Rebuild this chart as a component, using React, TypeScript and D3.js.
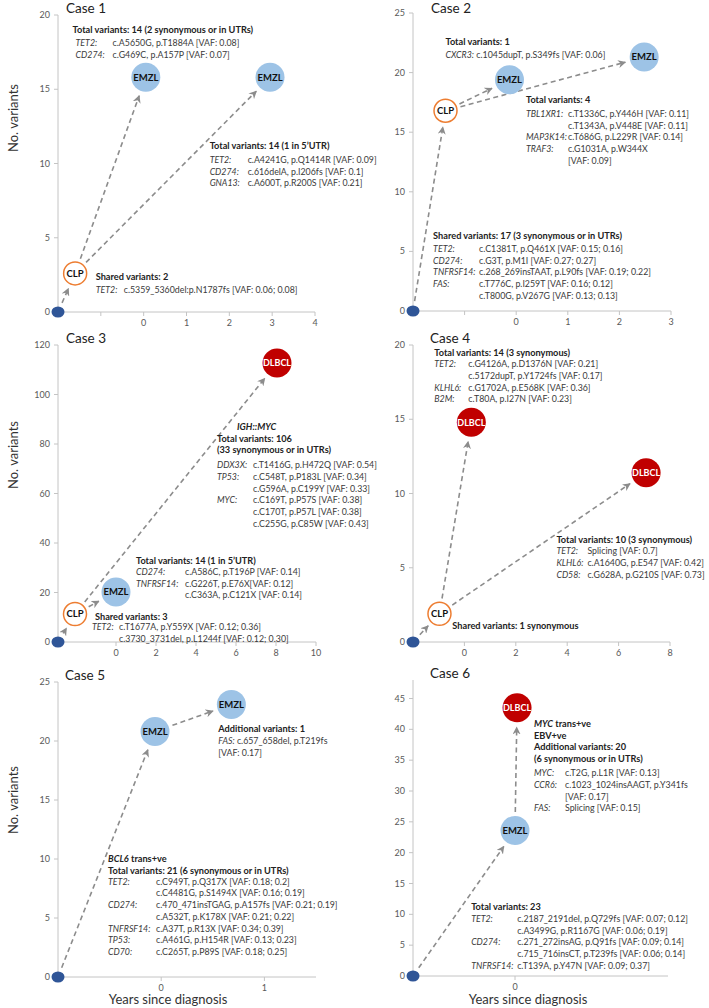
import React from "react";
import * as d3 from "d3";

const W = 709;
const H = 1008;
const FONT = "Lato, 'Open Sans', sans-serif";

const caseNames = ["Case 1", "Case 2", "Case 3", "Case 4", "Case 5", "Case 6"];
const xDomains = [[-2, 4], [-2, 3], [-2.9, 10], [-2, 8], [-1, 1.5], [-1, 1.5]];
const yDomains = [[0, 20], [0, 25], [0, 120], [0, 20], [0, 25], [0, 48]];
const xTickLabels = [[0, 1, 2, 3, 4], [0, 1, 2, 3], [0, 2, 4, 6, 8, 10], [0, 2, 4, 6, 8], [0, 1], [0]];
const xBlankTicks = [[-1], [-1], [], [], [], []];
const yTickValues = [
  [0, 5, 10, 15, 20],
  [0, 5, 10, 15, 20, 25],
  [0, 20, 40, 60, 80, 100, 120],
  [0, 5, 10, 15, 20],
  [0, 5, 10, 15, 20, 25],
  [0, 5, 10, 15, 20, 25, 30, 35, 40, 45],
];

// nodes: years since diagnosis, no. variants
const case1Nodes = [
  { kind: "origin", x: -2, y: 0 },
  { kind: "CLP", x: -1.6, y: 2.6 },
  { kind: "EMZL", x: 0.05, y: 15.8 },
  { kind: "EMZL", x: 2.95, y: 15.8 },
];
const case2Nodes = [
  { kind: "origin", x: -2, y: 0 },
  { kind: "CLP", x: -1.37, y: 16.8 },
  { kind: "EMZL", x: -0.13, y: 19.4 },
  { kind: "EMZL", x: 2.48, y: 21.3 },
];
const case3Nodes = [
  { kind: "origin", x: -2.9, y: 0 },
  { kind: "CLP", x: -2.05, y: 11.3 },
  { kind: "EMZL", x: 0, y: 20.2 },
  { kind: "DLBCL", x: 8.05, y: 112.7 },
];
const case4Nodes = [
  { kind: "origin", x: -2, y: 0 },
  { kind: "CLP", x: -0.97, y: 1.9 },
  { kind: "DLBCL", x: 0.27, y: 14.8 },
  { kind: "DLBCL", x: 7.07, y: 11.4 },
];
const case5Nodes = [
  { kind: "origin", x: -1, y: 0 },
  { kind: "EMZL", x: -0.06, y: 20.8 },
  { kind: "EMZL", x: 0.68, y: 23.1 },
];
const case6Nodes = [
  { kind: "origin", x: -1, y: 0 },
  { kind: "EMZL", x: 0, y: 23.6 },
  { kind: "DLBCL", x: 0.02, y: 43.5 },
];
const caseNodes = [case1Nodes, case2Nodes, case3Nodes, case4Nodes, case5Nodes, case6Nodes];
const caseEdges = [
  [[0, 1], [1, 2], [1, 3]],
  [[0, 1], [1, 2], [1, 3]],
  [[0, 1], [1, 2], [1, 3]],
  [[0, 1], [1, 2], [1, 3]],
  [[0, 1], [1, 2]],
  [[0, 1], [1, 2]],
];

// annotation texts
const c1Total1 = [
  { h: "Total variants: 14 (2 synonymous or in UTRs)" },
  { g: "TET2:", v: "c.A5650G, p.T1884A [VAF: 0.08]" },
  { g: "CD274:", v: "c.G469C, p.A157P [VAF: 0.07]" },
];
const c1Total2 = [
  { h: "Total variants: 14 (1 in 5\u2019UTR)" },
  { g: "TET2:", v: "c.A4241G, p.Q1414R [VAF: 0.09]" },
  { g: "CD274:", v: "c.616delA, p.I206fs [VAF: 0.1]" },
  { g: "GNA13:", v: "c.A600T, p.R200S [VAF: 0.21]" },
];
const c1Shared = [
  { h: "Shared variants: 2" },
  { g: "TET2:", v: "c.5359_5360del:p.N1787fs [VAF: 0.06; 0.08]" },
];
const c2Total1 = [
  { h: "Total variants: 1" },
  { g: "CXCR3:", v: "c.1045dupT, p.S349fs [VAF: 0.06]", inline: true },
];
const c2Total4 = [
  { h: "Total variants: 4" },
  { g: "TBL1XR1:", v: "c.T1336C, p.Y446H [VAF: 0.11]" },
  { v: "c.T1343A, p.V448E [VAF: 0.11]" },
  { g: "MAP3K14:", v: "c.T686G, p.L229R [VAF: 0.14]" },
  { g: "TRAF3:", v: "c.G1031A, p.W344X" },
  { v: "[VAF: 0.09]" },
];
const c2Shared = [
  { h: "Shared variants: 17 (3 synonymous or in UTRs)" },
  { g: "TET2:", v: "c.C1381T, p.Q461X [VAF: 0.15; 0.16]" },
  { g: "CD274:", v: "c.G3T, p.M1I [VAF: 0.27; 0.27]" },
  { g: "TNFRSF14:", v: "c.268_269insTAAT, p.L90fs [VAF: 0.19; 0.22]" },
  { g: "FAS:", v: "c.T776C, p.I259T [VAF: 0.16; 0.12]" },
  { v: "c.T800G, p.V267G [VAF: 0.13; 0.13]" },
];
const c3Dlbcl = [
  { hi: "IGH::MYC", dx: 20 },
  { h: "Total variants: 106" },
  { h: "(33 synonymous or in UTRs)" },
  { g: "DDX3X:", v: "c.T1416G, p.H472Q [VAF: 0.54]" },
  { g: "TP53:", v: "c.C548T, p.P183L [VAF: 0.34]" },
  { v: "c.G596A, p.C199Y [VAF: 0.33]" },
  { g: "MYC:", v: "c.C169T, p.P57S [VAF: 0.38]" },
  { v: "c.C170T, p.P57L [VAF: 0.38]" },
  { v: "c.C255G, p.C85W [VAF: 0.43]" },
];
const c3Emzl = [
  { h: "Total variants: 14 (1 in 5\u2019UTR)" },
  { g: "CD274:", v: "c.A586C, p.T196P [VAF: 0.14]" },
  { g: "TNFRSF14:", v: "c.G226T, p.E76X[VAF: 0.12]" },
  { v: "c.C363A, p.C121X [VAF: 0.14]" },
];
const c3Shared = [
  { h: "Shared variants: 3" },
  { g: "TET2:", v: "c.T1677A, p.Y559X [VAF: 0.12; 0.36]" },
  { v: "c.3730_3731del, p.L1244f [VAF: 0.12; 0.30]" },
];
const c4Total14 = [
  { h: "Total variants: 14 (3 synonymous)" },
  { g: "TET2:", v: "c.G4126A, p.D1376N [VAF: 0.21]" },
  { v: "c.5172dupT, p.Y1724fs [VAF: 0.17]" },
  { g: "KLHL6:", v: "c.G1702A, p.E568K [VAF: 0.36]" },
  { g: "B2M:", v: "c.T80A, p.I27N [VAF: 0.23]" },
];
const c4Total10 = [
  { h: "Total variants: 10 (3 synonymous)" },
  { g: "TET2:", v: "Splicing [VAF: 0.7]" },
  { g: "KLHL6:", v: "c.A1640G, p.E547 [VAF: 0.42]" },
  { g: "CD58:", v: "c.G628A, p.G210S [VAF: 0.73]" },
];
const c4Shared = [{ h: "Shared variants: 1 synonymous" }];
const c5Additional = [
  { h: "Additional variants: 1" },
  { g: "FAS:", v: "c.657_658del, p.T219fs", inline: true },
  { v: "[VAF: 0.17]", dx: 0 },
];
const c5Total = [
  { hi: "BCL6", rest: " trans+ve" },
  { h: "Total variants: 21 (6 synonymous or in UTRs)" },
  { g: "TET2:", v: "c.C949T, p.Q317X [VAF: 0.18; 0.2]" },
  { v: "c.C4481G, p.S1494X [VAF: 0.16; 0.19]" },
  { g: "CD274:", v: "c.470_471insTGAG, p.A157fs [VAF: 0.21; 0.19]" },
  { v: "c.A532T, p.K178X [VAF: 0.21; 0.22]" },
  { g: "TNFRSF14:", v: "c.A37T, p.R13X [VAF: 0.34; 0.39]" },
  { g: "TP53:", v: "c.A461G, p.H154R [VAF: 0.13; 0.23]" },
  { g: "CD70:", v: "c.C265T, p.P89S [VAF: 0.18; 0.25]" },
];
const c6Dlbcl = [
  { hi: "MYC", rest: " trans+ve" },
  { h: "EBV+ve" },
  { h: "Additional variants: 20" },
  { h: "(6 synonymous or in UTRs)" },
  { g: "MYC:", v: "c.T2G, p.L1R [VAF: 0.13]" },
  { g: "CCR6:", v: "c.1023_1024insAAGT, p.Y341fs" },
  { v: "[VAF: 0.17]" },
  { g: "FAS:", v: "Splicing [VAF: 0.15]" },
];
const c6Total = [
  { h: "Total variants: 23" },
  { g: "TET2:", v: "c.2187_2191del, p.Q729fs [VAF: 0.07; 0.12]" },
  { v: "c.A3499G, p.R1167G [VAF: 0.06; 0.19]" },
  { g: "CD274:", v: "c.271_272insAG, p.Q91fs [VAF: 0.09; 0.14]" },
  { v: "c.715_716insCT, p.T239fs [VAF: 0.06; 0.14]" },
  { g: "TNFRSF14:", v: "c.T139A, p.Y47N [VAF: 0.09; 0.37]" },
];

// layout
const panels = [
  { left: 58, right: 315, top: 15, bottom: 312, titleDx: 8 },
  { left: 413, right: 671, top: 13, bottom: 311, titleDx: 18 },
  { left: 58, right: 316, top: 345, bottom: 642, titleDx: 8 },
  { left: 413, right: 670, top: 345, bottom: 642, titleDx: 17 },
  { left: 58, right: 316, top: 682, bottom: 977, titleDx: 7 },
  { left: 413, right: 668, top: 680, bottom: 976, titleDx: 17 },
];
// anchor in data units, col = value column offset (px), gap after headers
const notes = [
  { c: 0, lines: c1Total1, x: -1.66, y: 19.0, col: 40, gap: 13, gi: 3 },
  { c: 0, lines: c1Total2, x: 1.54, y: 11.18, col: 38, gap: 14, gi: 0 },
  { c: 0, lines: c1Shared, x: -1.12, y: 2.36, col: 28, gap: 13, gi: 0 },
  { c: 1, lines: c2Total1, x: -1.37, y: 22.57, col: 20, gap: 13, gi: 0 },
  { c: 1, lines: c2Total4, x: 0.19, y: 17.7, col: 42, gap: 14, gi: 0 },
  { c: 1, lines: c2Shared, x: -1.61, y: 6.29, col: 46, gap: 13, gi: 0 },
  { c: 2, lines: c3Dlbcl, x: 5.05, y: 86.9, col: 36, gap: 15, gi: 0 },
  { c: 2, lines: c3Emzl, x: 1.0, y: 32.7, col: 49, gap: 11, gi: 0 },
  { c: 2, lines: c3Shared, x: -1.05, y: 10.1, col: 24, gap: 10, gi: -3 },
  { c: 3, lines: c4Total14, x: -1.17, y: 19.45, col: 34, gap: 11, gi: 0 },
  { c: 3, lines: c4Total10, x: 3.58, y: 6.86, col: 31, gap: 11, gi: 0 },
  { c: 3, lines: c4Shared, x: -0.47, y: 1.08, col: 0, gap: 11, gi: 0 },
  { c: 4, lines: c5Additional, x: 0.553, y: 21.0, col: 0, gap: 12, gi: 0 },
  { c: 4, lines: c5Total, x: -0.515, y: 10.0, col: 48, gap: 11, gi: 0 },
  { c: 5, lines: c6Dlbcl, x: 0.186, y: 40.86, col: 31, gap: 14, gi: 0 },
  { c: 5, lines: c6Total, x: -0.43, y: 11.19, col: 46, gap: 12, gi: 0 },
];

const LINE = 11.7;
const TXT = "#3a3a3a";
const AXIS = "#c4c4c4";
const TICK_TXT = "#595959";
const FS = 8.8;
const FSB = 9.2;

const radius = (k: string) => (k === "origin" ? 6 : k === "CLP" ? 11.5 : 14.5);

function Node({ n, x, y }: any) {
  if (n.kind === "origin")
    return <ellipse cx={x} cy={y} rx={6.5} ry={5.5} fill="#2f5597" />;
  if (n.kind === "CLP")
    return (
      <g>
        <circle cx={x} cy={y} r={11.5} fill="#fff" stroke="#ed7d31" strokeWidth={1.5} />
        <text x={x} y={y + 3.3} textAnchor="middle" fontSize={9.5} fontWeight="bold" fill="#111">CLP</text>
      </g>
    );
  const dl = n.kind === "DLBCL";
  return (
    <g>
      <circle cx={x} cy={y} r={14.5} fill={dl ? "#c00000" : "#9dc3e6"} />
      <text x={x} y={y + 3.3} textAnchor="middle" fontSize={dl ? 9 : 9.5} fontWeight="bold" fill={dl ? "#fff" : "#111"}>
        {n.kind}
      </text>
    </g>
  );
}

function Note({ note, xs, ys }: any) {
  const x0 = xs(note.x);
  let y = ys(note.y) + 3;
  const out: any[] = [];
  let prevHeader = false;
  note.lines.forEach((l: any, i: number) => {
    const isHeader = l.h !== undefined || l.hi !== undefined;
    if (i > 0) y += prevHeader && !isHeader ? note.gap : LINE;
    prevHeader = isHeader;
    if (l.hi !== undefined) {
      out.push(
        <text key={i} x={x0 + (l.dx || 0)} y={y} fontSize={FSB} fontWeight="bold" fill="#222">
          <tspan fontStyle="italic">{l.hi}</tspan>
          {l.rest ? <tspan>{l.rest}</tspan> : null}
        </text>
      );
    } else if (l.h !== undefined) {
      out.push(
        <text key={i} x={x0} y={y} fontSize={FSB} fontWeight="bold" fill="#222">{l.h}</text>
      );
    } else if (l.inline) {
      out.push(
        <text key={i} x={x0 + note.gi} y={y} fontSize={FS} fill={TXT}>
          <tspan fontStyle="italic">{l.g}</tspan>
          <tspan> {l.v}</tspan>
        </text>
      );
    } else {
      if (l.g)
        out.push(
          <text key={i + "g"} x={x0 + note.gi} y={y} fontSize={FS} fontStyle="italic" fill={TXT}>{l.g}</text>
        );
      out.push(
        <text key={i + "v"} x={x0 + (l.dx !== undefined ? l.dx : note.col)} y={y} fontSize={FS} fill={TXT}>{l.v}</text>
      );
    }
  });
  return <g>{out}</g>;
}

function Panel({ i }: { i: number }) {
  const p = panels[i];
  const xs = d3.scaleLinear().domain(xDomains[i]).range([p.left, p.right]);
  const ys = d3.scaleLinear().domain(yDomains[i]).range([p.bottom, p.top]);
  const nodes = caseNodes[i];
  return (
    <g>
      <text x={p.left + p.titleDx} y={Math.max(p.top - 2, 12.5)} fontSize={13.5} fill="#222">{caseNames[i]}</text>
      <line x1={p.left} x2={p.left} y1={p.top} y2={p.bottom} stroke={AXIS} strokeWidth={1} />
      <line x1={p.left} x2={p.right} y1={p.bottom} y2={p.bottom} stroke={AXIS} strokeWidth={1} />
      {yTickValues[i].map((t) => (
        <g key={"y" + t}>
          <line x1={p.left - 4} x2={p.left} y1={ys(t)} y2={ys(t)} stroke={AXIS} />
          <text x={p.left - 8} y={ys(t) + 3} textAnchor="end" fontSize={9} fill={TICK_TXT}>{t}</text>
        </g>
      ))}
      {xTickLabels[i].concat(xBlankTicks[i]).map((t) => (
        <line key={"xt" + t} x1={xs(t)} x2={xs(t)} y1={p.bottom} y2={p.bottom + 4} stroke={AXIS} />
      ))}
      {xTickLabels[i].map((t) => (
        <text key={"xl" + t} x={xs(t)} y={p.bottom + 13.5} textAnchor="middle" fontSize={9} fill={TICK_TXT}>{t}</text>
      ))}
      {caseEdges[i].map(([a, b], k) => {
        const sx = xs(nodes[a].x), sy = ys(nodes[a].y);
        const tx = xs(nodes[b].x), ty = ys(nodes[b].y);
        const len = Math.hypot(tx - sx, ty - sy);
        const ux = (tx - sx) / len, uy = (ty - sy) / len;
        const s0 = radius(nodes[a].kind) + 4;
        const t0 = radius(nodes[b].kind) + 5;
        return (
          <line
            key={"e" + k}
            x1={sx + ux * s0}
            y1={sy + uy * s0}
            x2={tx - ux * t0}
            y2={ty - uy * t0}
            stroke="#8c8c8c"
            strokeWidth={1.6}
            strokeDasharray="5,3.5"
            markerEnd="url(#arr)"
          />
        );
      })}
      {nodes.map((n, k) => (
        <Node key={"n" + k} n={n} x={xs(n.x)} y={ys(n.y)} />
      ))}
      {notes
        .filter((n) => n.c === i)
        .map((n, k) => (
          <Note key={"t" + k} note={n} xs={xs} ys={ys} />
        ))}
    </g>
  );
}

export default function App() {
  return (
    <svg
      width={W}
      height={H}
      viewBox={`0 0 ${W} ${H}`}
      style={{ position: "absolute", left: 0, top: 0, background: "#fff" }}
      fontFamily={FONT}
    >
      <defs>
        <marker id="arr" viewBox="0 0 10 10" refX={9} refY={5} markerWidth={8} markerHeight={8} markerUnits="userSpaceOnUse" orient="auto">
          <path d="M0,0 L10,5 L0,10 L3,5 z" fill="#8c8c8c" />
        </marker>
      </defs>
      <rect width={W} height={H} fill="#fff" />
      {[0, 1, 2, 3, 4, 5].map((i) => (
        <Panel key={i} i={i} />
      ))}
      {[118, 455, 800].map((cy) => (
        <text key={cy} transform={`translate(18,${cy}) rotate(-90)`} textAnchor="middle" fontSize={13} fill="#333">
          No. variants
        </text>
      ))}
      {[4, 5].map((i) => (
        <text key={"xl" + i} x={panels[i].left + (i === 4 ? 110 : 115)} y={1004} textAnchor="middle" fontSize={13} fill="#333">
          Years since diagnosis
        </text>
      ))}
    </svg>
  );
}
